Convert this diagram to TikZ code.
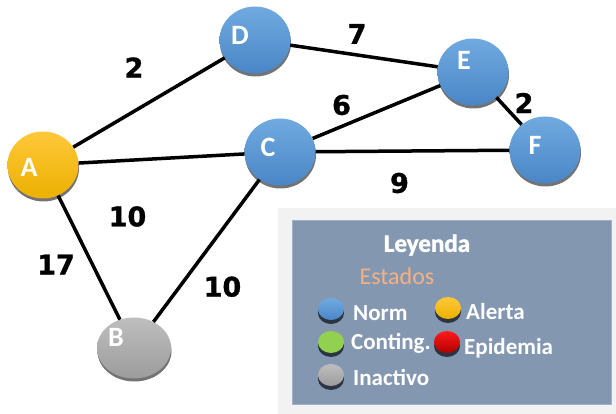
\documentclass[tikz,border=0pt]{standalone}
\usepackage{fontspec}
\setmainfont{Carlito}
\newfontfamily\cifras{DejaVu Sans}[FakeBold=1.2]
\newfontfamily\gruesa{Carlito}[FakeBold=1.6]
\usetikzlibrary{shapes.geometric,shadows}
\definecolor{azulA}{HTML}{70AAE0}
\definecolor{azulB}{HTML}{4A86C6}
\definecolor{amarA}{HTML}{FFC83A}
\definecolor{amarB}{HTML}{EBB000}
\definecolor{grisA}{HTML}{BEBEBE}
\definecolor{grisB}{HTML}{9C9C9C}
\definecolor{verde}{HTML}{92D050}
\definecolor{rojoA}{HTML}{FF1A1A}
\definecolor{rojoB}{HTML}{B00000}
\definecolor{fondoley}{HTML}{F2F2F2}
\definecolor{cajaley}{HTML}{8497B0}
\definecolor{naranja}{HTML}{F4B183}
\definecolor{sombra}{HTML}{2B3541}

\begin{document}
\begin{tikzpicture}[x=1pt,y=1pt,
    nodo/.style={ellipse,minimum width=71pt,minimum height=67pt,inner sep=0pt,
      drop shadow={shadow xshift=0.5pt,shadow yshift=-3pt,fill=black!55,opacity=1}},
    letra/.style={text=white,font=\bfseries\fontsize{28}{30}\selectfont},
    azul/.style={top color=azulA,bottom color=azulB},
    amarillo/.style={top color=amarA,bottom color=amarB},
    gris/.style={top color=grisA,bottom color=grisB},
    arista/.style={line width=3.5pt},
    peso/.style={font=\cifras\bfseries\fontsize{27}{30}\selectfont},
    punto/.style={ellipse,minimum width=26pt,minimum height=22pt,inner sep=0pt,
      drop shadow={shadow xshift=0pt,shadow yshift=-4pt,fill=sombra,opacity=1}},
    item/.style={anchor=west,text=white,inner sep=0pt,font=\bfseries\fontsize{23}{25}\selectfont}]
  \useasboundingbox (0,0) rectangle (616,414);

  % leyenda
  \node[fill=fondoley,minimum width=338pt,minimum height=206pt,anchor=south west,inner sep=0pt] (fondo) at (278,0) {};
  \node[fill=cajaley,draw=cajaley!75!white,line width=1pt,minimum width=319pt,minimum height=184pt,anchor=south west,inner sep=0pt] (caja) at (292,9) {};
  \node[text=white,font=\gruesa\bfseries\fontsize{25}{27}\selectfont] (leyenda) at (427,169) {Leyenda};
  \node[text=naranja,font=\fontsize{24}{26}\selectfont] (estados) at (397,138) {Estados};
  \node[punto,top color=azulA,bottom color=azulB] (pNorm) at (331,105) {};
  \node[item] (tNorm) at (353,101) {Norm};
  \node[punto,top color=amarA,bottom color=amarB] (pAlerta) at (448,106) {};
  \node[item] (tAlerta) at (466,102) {Alerta};
  \node[punto,fill=verde] (pConting) at (331,72) {};
  \node[item] (tConting) at (351,71) {Conting.};
  \node[punto,top color=rojoA,bottom color=rojoB] (pEpidemia) at (447,72) {};
  \node[item] (tEpidemia) at (464,66) {Epidemia};
  \node[punto,top color=grisA,bottom color=grisB] (pInactivo) at (331,39) {};
  \node[item] (tInactivo) at (353,36) {Inactivo};

  % grafo
  \node[nodo,amarillo] (A) at (43,249) {};
  \node[nodo,gris,minimum width=74pt,minimum height=61pt] (B) at (134,66) {};
  \node[nodo,azul] (C) at (280,262) {};
  \node[nodo,azul] (D) at (255,374) {};
  \node[nodo,azul] (E) at (473,342) {};
  \node[nodo,azul] (F) at (545,264) {};
  % letras
  \node[letra] (lA) at (29,247) {A};
  \node[letra] (lB) at (116,77) {B};
  \node[letra] (lC) at (268,267) {C};
  \node[letra] (lD) at (240,379) {D};
  \node[letra] (lE) at (464,354) {E};
  \node[letra] (lF) at (535,269) {F};

  \draw[arista] (A) -- node[peso,xshift=-15pt,yshift=35pt] (wAD) {2} (D);
  \draw[arista] (A) -- node[peso,xshift=-34pt,yshift=-58pt] (wAC) {10} (C);
  \draw[arista] (A) -- node[peso,xshift=-33pt,yshift=-7pt] (wAB) {17} (B);
  \draw[arista] (C) -- node[peso,xshift=16pt,yshift=-36pt] (wCB) {10} (B);
  \draw[arista] (D) -- node[peso,xshift=-7pt,yshift=22pt] (wDE) {7} (E);
  \draw[arista] (C) -- node[peso,xshift=-35pt,yshift=7pt] (wCE) {6} (E);
  \draw[arista] (E) -- node[peso,xshift=15pt,yshift=8pt] (wEF) {2} (F);
  \draw[arista] (C) -- node[peso,xshift=-13pt,yshift=-32pt] (wCF) {9} (F);
\end{tikzpicture}
\end{document}
